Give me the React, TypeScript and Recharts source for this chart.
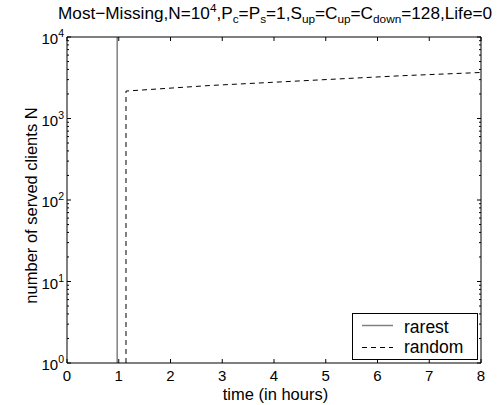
import React from 'react';
import { LineChart, Line, XAxis, YAxis, Legend } from 'recharts';

const rarestTime = [0.97, 0.97];
const rarestClients = [1, 10000];
const randomTime = [1.14, 1.14, 2.76, 6.43, 8];
const randomClients = [1, 2170, 2540, 3340, 3670];
const xTicks = [0, 1, 2, 3, 4, 5, 6, 7, 8];
const yExponents = [0, 1, 2, 3, 4];
const seriesNames = ['rarest', 'random'];

const rarestData = rarestTime.map((t, i) => ({ t, n: rarestClients[i] }));
const randomData = randomTime.map((t, i) => ({ t, n: randomClients[i] }));

const yMajor = yExponents.map((e) => Math.pow(10, e));
const yAll: number[] = [];
yExponents.forEach((e, idx) => {
  if (idx < yExponents.length - 1) {
    for (let m = 1; m < 10; m++) yAll.push(m * Math.pow(10, e));
  } else {
    yAll.push(Math.pow(10, e));
  }
});

const FONT = '"Liberation Sans", Arial, Helvetica, sans-serif';
const FS_TICK = 15;
const FS_LABEL = 16.5;
const FS_TITLE = 17.2;
const FS_SUB = 11.8;
const FS_LEG = 17.5;

const W = 504;
const H = 405;

const isMajor = (v: number) => yMajor.indexOf(v) >= 0;

const LeftTick = (props: any) => {
  const { x, y, payload } = props;
  const v = payload.value;
  const major = isMajor(v);
  const exp = Math.round(Math.log10(v));
  return (
    <g>
      <line x1={x} x2={x + (major ? 4 : 2)} y1={y} y2={y} stroke="#000" strokeWidth={1} />
      {major && (
        <text x={x - 3} y={y + 7} textAnchor="end" fontSize={FS_TICK} fontFamily={FONT} fill="#000">
          10<tspan dy={-7} fontSize={10.5}>{exp}</tspan>
        </text>
      )}
    </g>
  );
};

const RightTick = (props: any) => {
  const { x, y, payload } = props;
  const major = isMajor(payload.value);
  return <line x1={x} x2={x - (major ? 4 : 2)} y1={y} y2={y} stroke="#000" strokeWidth={1} />;
};

const BottomTick = (props: any) => {
  const { x, y, payload } = props;
  return (
    <g>
      <line x1={x} x2={x} y1={y} y2={y - 4} stroke="#000" strokeWidth={1} />
      <text x={x} y={y + 17.5} textAnchor="middle" fontSize={FS_TICK} fontFamily={FONT} fill="#000">
        {payload.value}
      </text>
    </g>
  );
};

const TopTick = (props: any) => {
  const { x, y } = props;
  return <line x1={x} x2={x} y1={y} y2={y + 4} stroke="#000" strokeWidth={1} />;
};

const LegendBox = () => (
  <svg width={126} height={47} style={{ display: 'block' }}>
    <rect x={0.5} y={0.5} width={125} height={46} fill="#fff" stroke="#000" strokeWidth={1} />
    <line x1={10} x2={41} y1={12.5} y2={12.5} stroke="#808080" strokeWidth={1.5} />
    <text x={52} y={19.5} fontSize={FS_LEG} fontFamily={FONT} fill="#000">{seriesNames[0]}</text>
    <line x1={10} x2={41} y1={34.5} y2={34.5} stroke="#000" strokeWidth={1} strokeDasharray="5 4" />
    <text x={52} y={40} fontSize={FS_LEG} fontFamily={FONT} fill="#000">{seriesNames[1]}</text>
  </svg>
);

export default function App() {
  return (
    <div style={{ position: 'absolute', left: 0, top: 0, width: W, height: H, background: '#fff' }}>
      <LineChart width={W} height={H} margin={{ top: 0, right: 0, bottom: 0, left: 0 }}>
        <XAxis
          xAxisId="b"
          type="number"
          dataKey="t"
          domain={[0, 8]}
          ticks={xTicks}
          interval={0}
          height={42}
          tickSize={0}
          tickMargin={0}
          tickLine={false}
          tick={<BottomTick />}
          axisLine={{ stroke: '#000', strokeWidth: 1 }}
          allowDataOverflow
        />
        <XAxis
          xAxisId="t"
          orientation="top"
          type="number"
          dataKey="t"
          domain={[0, 8]}
          ticks={xTicks}
          interval={0}
          height={37}
          tickSize={0}
          tickMargin={0}
          tickLine={false}
          tick={<TopTick />}
          axisLine={{ stroke: '#000', strokeWidth: 1 }}
          allowDataOverflow
        />
        <YAxis
          yAxisId="l"
          type="number"
          scale="log"
          dataKey="n"
          domain={[1, 10000]}
          ticks={yAll}
          interval={0}
          width={67}
          tickSize={0}
          tickMargin={0}
          tickLine={false}
          tick={<LeftTick />}
          axisLine={{ stroke: '#000', strokeWidth: 1 }}
          allowDataOverflow
        />
        <YAxis
          yAxisId="r"
          orientation="right"
          type="number"
          scale="log"
          dataKey="n"
          domain={[1, 10000]}
          ticks={yAll}
          interval={0}
          width={23}
          tickSize={0}
          tickMargin={0}
          tickLine={false}
          tick={<RightTick />}
          axisLine={{ stroke: '#000', strokeWidth: 1 }}
          allowDataOverflow
        />
        <Line
          xAxisId="b"
          yAxisId="l"
          data={rarestData}
          dataKey="n"
          name={seriesNames[0]}
          stroke="#808080"
          strokeWidth={1.5}
          dot={false}
          isAnimationActive={false}
          type="linear"
        />
        <Line
          xAxisId="b"
          yAxisId="l"
          data={randomData}
          dataKey="n"
          name={seriesNames[1]}
          stroke="#000"
          strokeWidth={1}
          strokeDasharray="5 4"
          dot={false}
          isAnimationActive={false}
          type="linear"
        />
        <Legend
          layout="vertical"
          align="center"
          verticalAlign="middle"
          content={() => <LegendBox />}
          wrapperStyle={{ left: 352, top: 313, width: 126, height: 47 }}
        />
      </LineChart>
      <svg
        width={W}
        height={H}
        style={{ position: 'absolute', left: 0, top: 0, pointerEvents: 'none' }}
      >
        <text x={58} y={19} textAnchor="start" fontSize={FS_TITLE} fontFamily={FONT} fill="#000">
          Most−Missing,N=10<tspan dy={-7} fontSize={FS_SUB}>4</tspan>
          <tspan dy={7}>,P</tspan><tspan dy={4} fontSize={FS_SUB}>c</tspan>
          <tspan dy={-4}>=P</tspan><tspan dy={4} fontSize={FS_SUB}>s</tspan>
          <tspan dy={-4}>=1,S</tspan><tspan dy={4} fontSize={FS_SUB}>up</tspan>
          <tspan dy={-4}>=C</tspan><tspan dy={4} fontSize={FS_SUB}>up</tspan>
          <tspan dy={-4}>=C</tspan><tspan dy={4} fontSize={FS_SUB}>down</tspan>
          <tspan dy={-4}>=128,Life=0</tspan>
        </text>
        <text x={275.5} y={400} textAnchor="middle" fontSize={FS_LABEL} fontFamily={FONT} fill="#000">
          time (in hours)
        </text>
        <text
          x={0}
          y={0}
          transform="translate(37,205.5) rotate(-90)"
          textAnchor="middle"
          fontSize={FS_LABEL}
          fontFamily={FONT}
          fill="#000"
        >
          number of served clients N
        </text>
      </svg>
    </div>
  );
}
